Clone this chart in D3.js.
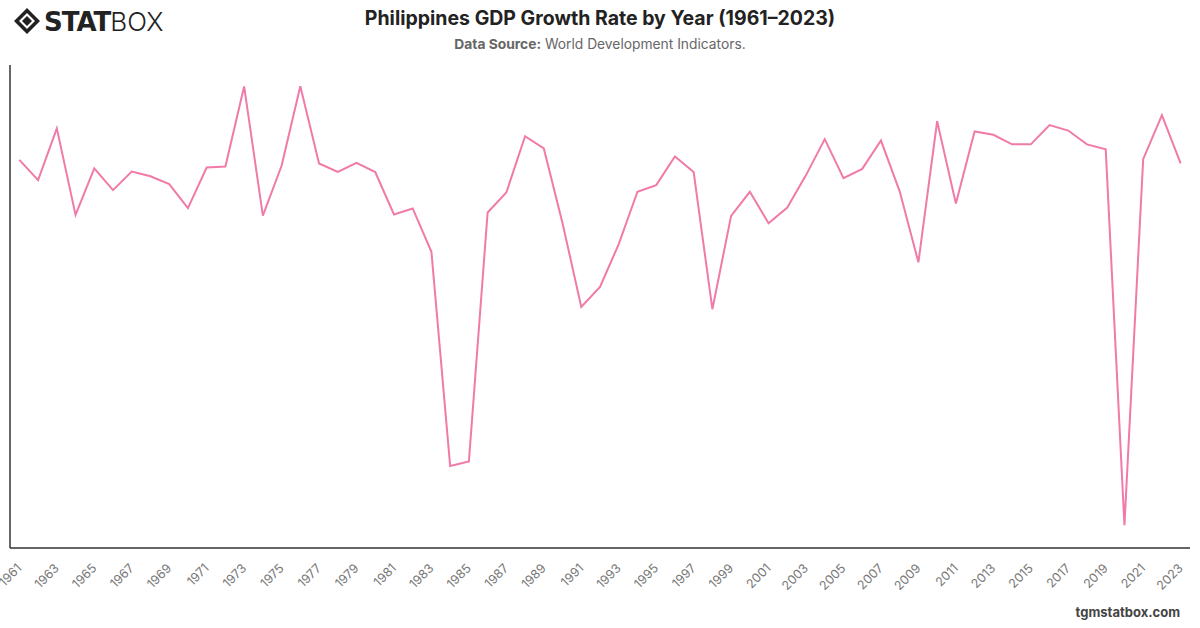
<!DOCTYPE html>
<html>
<head>
<meta charset="utf-8">
<script src="https://cdn.jsdelivr.net/npm/d3@7"></script>
<style>
  body { margin: 0; background: #fff; }
  svg { display: block; font-family: Inter, "Noto Sans", sans-serif; }
</style>
</head>
<body>
<svg id="chart" width="1200" height="628"></svg>
<script>
//
// Data
//

var years = d3.range(1961, 2024)
var growth = [
  5.82, 4.97, 7.14, 3.51, 5.46, 4.55, 5.33, 5.13, 4.80, 3.79,
  5.50, 5.54, 8.90, 3.48, 5.57, 8.91, 5.67, 5.31, 5.69, 5.31,
  3.53, 3.78, 1.96, -7.03, -6.84, 3.61, 4.45, 6.81, 6.30, 3.16,
  -0.35, 0.49, 2.28, 4.48, 4.76, 5.96, 5.31, -0.45, 3.47, 4.48,
  3.16, 3.82, 5.18, 6.69, 5.05, 5.44, 6.63, 4.50, 1.52, 7.44,
  3.99, 7.01, 6.87, 6.47, 6.47, 7.28, 7.05, 6.47, 6.26, -9.52,
  5.85, 7.70, 5.67
]
var tickYears = years.filter(function(y) { return (y - 1961) % 2 === 0 })

var title = 'Philippines GDP Growth Rate by Year (1961\u20132023)'
var colorLine = '#f07aa8'
var colorAxis = '#333'

//
// Layout
//

var svg = d3.select('#chart')
var plotLeft = 10, plotRight = 1190, plotTop = 65, plotBottom = 548

var x = d3.scalePoint()
  .domain(years)
  .range([plotLeft, plotRight])
  .padding(0.5)

var y = d3.scaleLinear()
  .domain([d3.min(growth) * 1.1, d3.max(growth) * 1.1])
  .range([plotBottom, plotTop])

//
// Header
//

var logo = svg.append('g').attr('transform', 'translate(14,8)')
logo.append('path')
  .attr('d', 'M13,0 L26,13 L13,26 L0,13 Z M13,5 L5,13 L13,21 L21,13 Z')
  .attr('fill', '#222').attr('fill-rule', 'evenodd')
logo.append('path')
  .attr('d', 'M13,8 L18,13 L13,18 L8,13 Z')
  .attr('fill', '#222')
logo.append('text')
  .attr('x', 30).attr('y', 23)
  .attr('font-size', 26).attr('font-weight', 900)
  .attr('fill', '#222')
  .attr('font-family', '"DejaVu Sans", sans-serif')
  .attr('letter-spacing', -1)
  .text('STAT')
  .append('tspan')
  .attr('font-weight', 300)
  .attr('font-family', 'Inter, sans-serif')
  .attr('letter-spacing', 0)
  .text('BOX')

svg.append('text')
  .attr('x', 600).attr('y', 25)
  .attr('text-anchor', 'middle')
  .attr('font-size', 19.5).attr('font-weight', 700)
  .attr('fill', '#222')
  .text(title)

var sub = svg.append('text')
  .attr('x', 600).attr('y', 49)
  .attr('text-anchor', 'middle')
  .attr('font-size', 13.8)
  .attr('fill', '#666')
sub.append('tspan').attr('font-weight', 700).text('Data Source:')
sub.append('tspan').text(' World Development Indicators.')

//
// Axes
//

svg.append('line')
  .attr('x1', plotLeft).attr('x2', plotLeft)
  .attr('y1', plotTop).attr('y2', plotBottom)
  .attr('stroke', colorAxis).attr('stroke-width', 1.5)

svg.append('line')
  .attr('x1', plotLeft).attr('x2', plotRight)
  .attr('y1', plotBottom).attr('y2', plotBottom)
  .attr('stroke', colorAxis).attr('stroke-width', 1.5)

svg.append('g')
  .selectAll('text')
  .data(tickYears)
  .join('text')
  .attr('transform', function(d) { return 'translate(' + (x(d) + 3) + ',' + (plotBottom + 21) + ') rotate(-45)' })
  .attr('text-anchor', 'end')
  .attr('font-size', 12.5)
  .attr('fill', '#777')
  .text(function(d) { return d })

//
// Line
//

var line = d3.line()
  .x(function(d, i) { return x(years[i]) })
  .y(function(d) { return y(d) })

svg.append('path')
  .datum(growth)
  .attr('d', line)
  .attr('fill', 'none')
  .attr('stroke', colorLine)
  .attr('stroke-width', 2)

//
// Footer
//

svg.append('text')
  .attr('x', 1180).attr('y', 617)
  .attr('text-anchor', 'end')
  .attr('font-size', 13).attr('font-weight', 700)
  .attr('fill', '#444')
  .text('tgmstatbox.com')
</script>
</body>
</html>
